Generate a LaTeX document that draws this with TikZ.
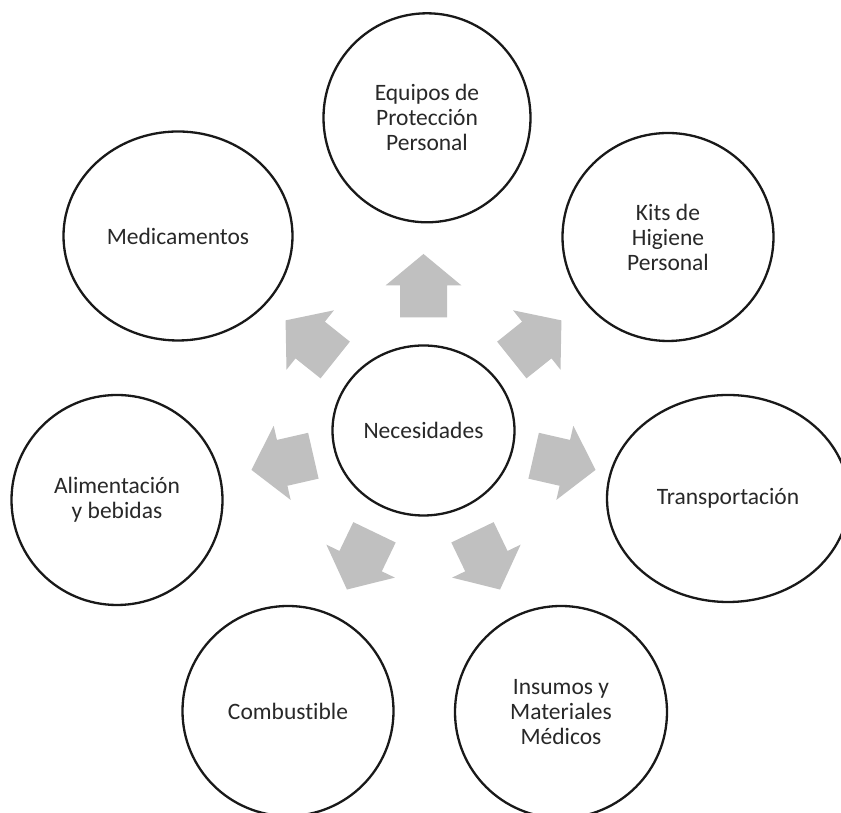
\documentclass[tikz,border=0pt]{standalone}
\usepackage{fontspec}
\setmainfont{Carlito}[Ligatures={NoCommon}]
\usetikzlibrary{shapes.geometric}
\definecolor{arrowgray}{RGB}{192,192,192}
\definecolor{txtgray}{RGB}{40,40,40}
\begin{document}
\begin{tikzpicture}[x=1pt,y=1pt,
  need/.style={ellipse, draw=black!90, line width=2.3pt, inner sep=0pt, align=center,
    text=txtgray, font=\fontsize{23.5}{25}\selectfont},
  blockarrow/.style={fill=arrowgray, draw=none}]
\clip (0,0) rectangle (841,813);
\fill[white] (0,0) rectangle (841,813);
% centre
\node[need, minimum width=182pt, minimum height=170pt] (c) at (423.5,382.5) {Necesidades};
% outer circles
\node[need, minimum width=207pt, minimum height=209pt] (epp) at (427,695.2) {Equipos de\\Protección\\Personal};
\node[need, minimum width=211pt, minimum height=208pt] (kits) at (668,576) {Kits de\\Higiene\\Personal};
\node[need, minimum width=242pt, minimum height=207pt] (trans) at (728,314.5) {Transportación};
\node[need, minimum width=212pt, minimum height=212pt] (ins) at (561,101) {Insumos y\\Materiales\\Médicos};
\node[need, minimum width=211pt, minimum height=210pt] (comb) at (288,102) {Combustible};
\node[need, minimum width=211pt, minimum height=210pt] (alim) at (117,313) {Alimentación\\y bebidas};
\node[need, minimum width=229pt, minimum height=209pt] (med) at (178,577) {Medicamentos};
% block arrows
\foreach \a in {90,38.6,-12.9,-64.3,-115.7,-167.1,141.4}
  \fill[blockarrow, shift={(c.center)}, rotate=\a]
    (113,-23.5) -- (145,-23.5) -- (145,-38) -- (176.5,0) -- (145,38) -- (145,23.5) -- (113,23.5) -- cycle;
\end{tikzpicture}
\end{document}
